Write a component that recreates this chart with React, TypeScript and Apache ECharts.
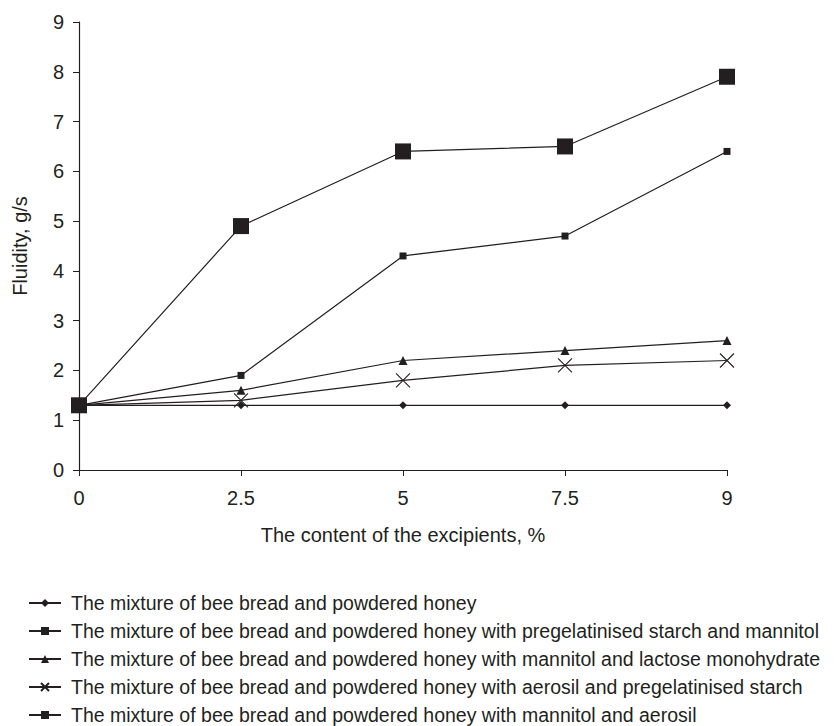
import React, { useEffect, useRef } from "react";
import * as echarts from "echarts";

const categories = ["0", "2.5", "5", "7.5", "9"];
const yTicks = { min: 0, max: 9, interval: 1 };

const seriesNames = [
  "The mixture of bee bread and powdered honey",
  "The mixture of bee bread and powdered honey with pregelatinised starch and mannitol",
  "The mixture of bee bread and powdered honey with mannitol and lactose monohydrate",
  "The mixture of bee bread and powdered honey with aerosil and pregelatinised starch",
  "The mixture of bee bread and powdered honey with mannitol and aerosil",
];

const honeyOnly = [1.3, 1.3, 1.3, 1.3, 1.3];
const starchMannitol = [1.3, 1.9, 4.3, 4.7, 6.4];
const mannitolLactose = [1.3, 1.6, 2.2, 2.4, 2.6];
const aerosilStarch = [1.3, 1.4, 1.8, 2.1, 2.2];
const mannitolAerosil = [1.3, 4.9, 6.4, 6.5, 7.9];

const INK = "#231f20";
const FONT = "'Liberation Sans', Arial, sans-serif";

const markers = [
  { symbol: "diamond", size: 8 },
  { symbol: "rect", size: 7 },
  { symbol: "triangle", size: 9 },
  { symbol: "path://M0,0 L10,10 M10,0 L0,10", size: 14 },
  { symbol: "rect", size: 16 },
];

export default function App() {
  const ref = useRef<HTMLDivElement>(null);

  useEffect(() => {
    if (!ref.current) return;
    const chart = echarts.init(ref.current, undefined, { renderer: "svg" });
    const allData = [honeyOnly, starchMannitol, mannitolLactose, aerosilStarch, mannitolAerosil];
    const series = allData.map((d, i) => {
      const isCross = i === 3;
      return {
        name: seriesNames[i],
        type: "line",
        data: d,
        symbol: markers[i].symbol,
        symbolSize: markers[i].size,
        showAllSymbol: true,
        lineStyle: { color: INK, width: 1.2 },
        itemStyle: isCross
          ? { color: "rgba(0,0,0,0)", borderColor: INK, borderWidth: 1.1 }
          : { color: INK, borderWidth: 0 },
        emphasis: { disabled: true },
        z: 2 + i,
      };
    });
    chart.setOption({
      animation: false,
      backgroundColor: "#ffffff",
      textStyle: { fontFamily: FONT, color: INK },
      grid: { left: 79, right: 107, top: 22, bottom: 256, containLabel: false },
      xAxis: {
        type: "category",
        data: categories,
        boundaryGap: false,
        name: "The content of the excipients, %",
        nameLocation: "middle",
        nameGap: 55,
        nameTextStyle: { fontSize: 20, color: INK, fontFamily: FONT },
        axisLine: { lineStyle: { color: INK, width: 1.2 } },
        axisTick: { show: true, length: 6, alignWithLabel: true, lineStyle: { color: INK } },
        axisLabel: { fontSize: 20, color: INK, margin: 18, fontFamily: FONT },
        splitLine: { show: false },
      },
      yAxis: {
        type: "value",
        min: yTicks.min,
        max: yTicks.max,
        interval: yTicks.interval,
        name: "Fluidity, g/s",
        nameLocation: "middle",
        nameRotate: 90,
        nameGap: 49,
        nameTextStyle: { fontSize: 20, color: INK, fontFamily: FONT },
        axisLine: { show: true, lineStyle: { color: INK, width: 1.2 } },
        axisTick: { show: true, length: 6, lineStyle: { color: INK } },
        axisLabel: { fontSize: 20, color: INK, margin: 15, fontFamily: FONT },
        splitLine: { show: false },
      },
      legend: {
        orient: "vertical",
        left: 28,
        top: 593,
        padding: 0,
        itemWidth: 32,
        itemHeight: 10,
        itemGap: 8,
        selectedMode: false,
        textStyle: { fontSize: 19.5, lineHeight: 20, color: INK, fontFamily: FONT, padding: [0, 0, 0, 5] },
        data: seriesNames,
      },
      series,
    });
    return () => chart.dispose();
  }, []);

  return <div ref={ref} style={{ width: 834, height: 726, position: "absolute", left: 0, top: 0 }} />;
}
